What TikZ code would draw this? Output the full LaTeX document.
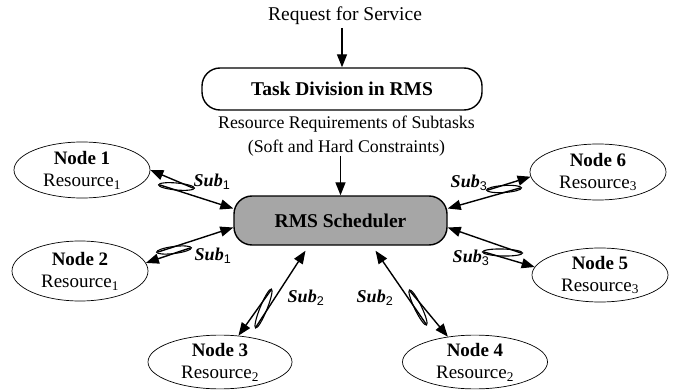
\documentclass[tikz,border=0pt]{standalone}
\usepackage{fontspec}
\setmainfont{Liberation Serif}
\newfontfamily\subfont{Liberation Sans}
\usetikzlibrary{arrows.meta,calc,shapes.geometric}
\newcommand{\rsub}[1]{\textsubscript{#1}}
\newcommand{\subl}[1]{\textbf{\textit{Sub}}\textsubscript{\subfont #1}}
\begin{document}
\begin{tikzpicture}[x=1pt,y=-1pt,
  resnode/.style={ellipse, draw, line width=0.7pt, inner sep=0pt,
    minimum width=136pt, minimum height=56pt, align=center,
    font=\fontsize{19}{22}\selectfont},
  boxnode/.style={draw, line width=1.4pt, rounded corners=18pt, inner sep=0pt,
    font=\fontsize{19.5}{22}\selectfont\bfseries},
  arr/.style={-{Triangle[length=13pt,width=10pt]}, line width=1.4pt},
  twist/.style={draw, ellipse, line width=1.1pt, inner sep=0pt, minimum height=7pt},
  sublabel/.style={font=\fontsize{18}{20}\selectfont, inner sep=0pt}
]
\useasboundingbox (0,0) rectangle (674,390);

% top texts and boxes
\node[font=\fontsize{19.5}{22}\selectfont, inner sep=0pt] (req) at (345,16) {Request for Service};
\node[boxnode, minimum width=280pt, minimum height=42pt] (task) at (342,89) {Task Division in RMS};
\node[font=\fontsize{17.8}{24}\selectfont, align=center, inner sep=0pt] (reqs) at (346.5,136)
  {Resource Requirements of Subtasks\\(Soft and Hard Constraints)};
\node[boxnode, fill=black!35, minimum width=213pt, minimum height=49pt] (rms) at (340.5,220.5) {RMS Scheduler};

\coordinate (a1) at (342,28);
\coordinate (a2) at (340.5,156);
\draw[arr] (a1) -- (task.north);
\draw[arr] (a2) -- (rms.north);

% resource nodes
\node[resnode] (n1) at (82,170) {\textbf{Node 1}\\Resource\rsub{1}};
\node[resnode, minimum height=60pt] (n2) at (80,271) {\textbf{Node 2}\\Resource\rsub{1}};
\node[resnode] (n6) at (598,172) {\textbf{Node 6}\\Resource\rsub{3}};
\node[resnode, minimum height=54pt] (n5) at (600,275) {\textbf{Node 5}\\Resource\rsub{3}};
\node[resnode, minimum width=144pt, minimum height=52pt] (n3) at (220,362) {\textbf{Node 3}\\Resource\rsub{2}};
\node[resnode, minimum width=145pt, minimum height=52pt] (n4) at (475,362) {\textbf{Node 4}\\Resource\rsub{2}};

% twist points
\coordinate (t1) at (193,188); \coordinate (b1) at (160,185);
\coordinate (t2) at (190,248); \coordinate (b2) at (158,252);
\coordinate (t6) at (488,190); \coordinate (b6) at (520,188);
\coordinate (t5) at (484,252); \coordinate (b5) at (521,253);
\coordinate (t3) at (271,290); \coordinate (b3) at (256,327);
\coordinate (t4) at (410,291); \coordinate (b4) at (426,324);

% twists
\node[twist, rotate=-5.2, minimum width=36pt] (l1) at ($(t1)!0.5!(b1)$) {};
\node[twist, rotate=7.1, minimum width=35pt] (l2) at ($(t2)!0.5!(b2)$) {};
\node[twist, rotate=3.6, minimum width=35pt] (l6) at ($(t6)!0.5!(b6)$) {};
\node[twist, rotate=-1.5, minimum width=40pt] (l5) at ($(t5)!0.5!(b5)$) {};
\node[twist, rotate=67.9, minimum width=42pt] (l3) at ($(t3)!0.5!(b3)$) {};
\node[twist, rotate=115.9, minimum width=39pt] (l4) at ($(t4)!0.5!(b4)$) {};

% connectors
\draw[arr] (t1) -- (n1.east);
\draw[arr] (b1) -- ($(rms.west)+(0,-12)$);
\draw[arr] (t2) -- (n2.7);
\draw[arr] (b2) -- ($(rms.west)+(0,7)$);
\draw[arr] (t6) -- (n6.184);
\draw[arr] (b6) -- ($(rms.east)+(0,-12)$);
\draw[arr] (t5) -- (n5.173);
\draw[arr] (b5) -- ($(rms.east)+(0,7)$);
\draw[arr] (t3) -- (n3.55);
\draw[arr] (b3) -- ($(rms.south)+(-35,5)$);
\draw[arr] (t4) -- (n4.137);
\draw[arr] (b4) -- ($(rms.south)+(35,5)$);

% labels
\node[sublabel] (s1) at (212,182) {\subl{1}};
\node[sublabel] (s2) at (213,256) {\subl{1}};
\node[sublabel] (s6) at (469,183) {\subl{3}};
\node[sublabel] (s5) at (471,258) {\subl{3}};
\node[sublabel] (s3) at (306,298) {\subl{2}};
\node[sublabel] (s4) at (375,298) {\subl{2}};
\end{tikzpicture}
\end{document}
